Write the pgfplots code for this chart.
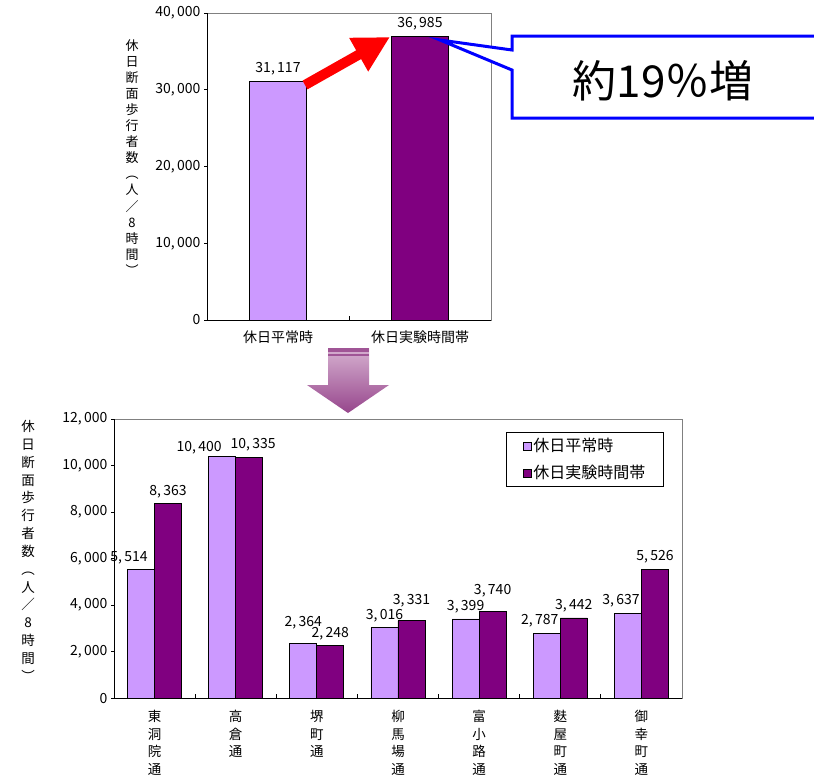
\documentclass[border=0pt]{standalone}
\usepackage{pgfplots}
\pgfplotsset{compat=1.18}
\usepackage{pgfplotstable}
\usepackage{fontspec}
\setmainfont{Noto Sans CJK JP}
\usetikzlibrary{arrows.meta}
\definecolor{lav}{RGB}{204,153,255}
\definecolor{plum}{RGB}{128,0,128}
\definecolor{axgray}{RGB}{128,128,128}
\definecolor{arrtop}{RGB}{214,176,208}
\definecolor{arrbot}{RGB}{150,70,140}
\definecolor{arrband}{RGB}{160,85,150}

\pgfplotstableread{
x a b adx ady bdx bdy
0 5514 8363 -12 0 0 0
1 10400 10335 -23 -4 4 1
2 2364 2248 0 8 0 0
3 3016 3331 0 0 0 8
4 3399 3740 0 0 0 8
5 2787 3442 -7 0 0 0
6 3637 5526 -7 0 0 0
}\bottomdata

\pgfplotstableread{
x v
0 31117
}\topA
\pgfplotstableread{
x v
1 36985
}\topB

\pgfplotsset{
  common/.style={
    scale only axis,
    axis line style={draw=axgray, line width=0.8pt},
    tick align=outside,
    major tick length=3pt,
    tick style={black, line width=0.8pt},
    xtick style={draw=none},
    ytick pos=left,
    scaled y ticks=false,
    yticklabel style={font=\fontsize{14}{14}\selectfont},
    /pgf/number format/1000 sep={,\,},
    /pgf/number format/assume math mode=true,
    clip=false,
  },
  lbl/.style={nodes near coords, nodes near coords style={font=\fontsize{14}{14}\selectfont, text=black, anchor=south, inner sep=2pt, yshift=3.5pt}},
}

\begin{document}
\begin{tikzpicture}
\useasboundingbox (0pt,0pt) rectangle (814pt,-777pt);

% ---------- top chart ----------
\begin{axis}[common, at={(207pt,-320pt)}, anchor=south west,
  width=284pt, height=307pt,
  xmin=-0.5, xmax=1.5, ymin=0, ymax=40000,
  ytick={0,10000,20000,30000,40000},
  xtick={0,1}, xticklabels={休日平常時,休日実験時間帯},
  xticklabel style={font=\fontsize{14}{14}\selectfont, yshift=-4pt}]
\addplot[ybar, bar width=57pt, bar shift=0pt, fill=lav, draw=black, line width=0.8pt, lbl] table[x=x,y=v]{\topA};
\addplot[ybar, bar width=57pt, bar shift=0pt, fill=plum, draw=black, line width=0.8pt, lbl] table[x=x,y=v]{\topB};
\draw[black, line width=1pt] (rel axis cs:0,1) -- (rel axis cs:0,0) -- (rel axis cs:1,0);
\draw[black, line width=0.8pt] (axis cs:0.5,0) -- ([yshift=4pt]axis cs:0.5,0);
\end{axis}

% ---------- bottom chart ----------
\begin{axis}[common, at={(114pt,-698pt)}, anchor=south west,
  width=568pt, height=279pt,
  xmin=-0.5, xmax=6.5, ymin=0, ymax=12000,
  ytick={0,2000,...,12000},
  xtick={0,...,6},
  xticklabels={東\\洞\\院\\通,高\\倉\\通,堺\\町\\通,柳\\馬\\場\\通,富\\小\\路\\通,麩\\屋\\町\\通,御\\幸\\町\\通},
  xticklabel style={align=center, anchor=north, font=\fontsize{13.5}{17.4}\selectfont, yshift=-6pt},
  legend style={at={(axis description cs:0.968,0.953)}, anchor=north east,
    draw=black, line width=0.8pt, font=\fontsize{16}{18}\selectfont,
    row sep=8pt, inner xsep=16pt, inner ysep=4pt, cells={anchor=west}},
  ]
\addplot[ybar, bar width=27pt, bar shift=-13.5pt, fill=lav, draw=black, line width=0.8pt,
  visualization depends on={\thisrow{adx}\as\dx},
  visualization depends on={\thisrow{ady}\as\dy},
  nodes near coords, nodes near coords style={font=\fontsize{14}{14}\selectfont, text=black, anchor=south, inner sep=2pt, yshift=3.5pt, xshift={\dx pt - 13.5pt}, yshift=\dy pt},
  legend image code/.code={\draw[fill=lav, draw=black, line width=0.8pt] (0pt,-4pt) rectangle (8pt,4pt);}]
  table[x=x,y=a]{\bottomdata};
\addplot[ybar, bar width=27pt, bar shift=13.5pt, fill=plum, draw=black, line width=0.8pt,
  visualization depends on={\thisrow{bdx}\as\dx},
  visualization depends on={\thisrow{bdy}\as\dy},
  nodes near coords, nodes near coords style={font=\fontsize{14}{14}\selectfont, text=black, anchor=south, inner sep=2pt, yshift=3.5pt, xshift={\dx pt + 13.5pt}, yshift=\dy pt},
  legend image code/.code={\draw[fill=plum, draw=black, line width=0.8pt] (0pt,-4pt) rectangle (8pt,4pt);}]
  table[x=x,y=b]{\bottomdata};
\legend{休日平常時,休日実験時間帯}
\draw[black, line width=1pt] (rel axis cs:0,1) -- (rel axis cs:0,0) -- (rel axis cs:1,0);
\pgfplotsinvokeforeach{0.5,1.5,2.5,3.5,4.5,5.5}{\draw[black, line width=0.8pt] (axis cs:#1,0) -- ([yshift=4pt]axis cs:#1,0);}
\end{axis}

% ---------- annotations ----------
\begin{scope}[x=1pt, y=-1pt]
  % y labels
  \node[anchor=north, inner sep=0pt, align=center, font=\fontsize{13}{16.1}\selectfont] at (132,39)
    {休\\日\\断\\面\\歩\\行\\者\\数\\︵\\人\\／\\8\\時\\間\\︶};
  \node[anchor=north, inner sep=0pt, align=center, font=\fontsize{13.5}{17.85}\selectfont] at (28,420)
    {休\\日\\断\\面\\歩\\行\\者\\数\\︵\\人\\／\\8\\時\\間\\︶};
  % red arrow
  \draw[red, line width=10pt, -{Triangle[length=36pt, width=36pt]}] (305,85) -- (390,37);
  % callout
  \filldraw[fill=white, draw=blue, line width=3pt, line join=miter]
    (512,70) -- (440,40) -- (512,50) -- (512,36) -- (818,36) -- (818,118) -- (512,118) -- cycle;
  \node[font=\fontsize{44}{48}\selectfont] at (663,81) {約19％増};
  % down arrow
  \shade[top color=arrtop, bottom color=arrbot]
    (328,348) -- (369,348) -- (369,385) -- (389,385) -- (348,413) -- (307,385) -- (328,385) -- cycle;
  \fill[arrband] (328,348) rectangle (369,351.5);
  \fill[arrband] (328,353.5) rectangle (369,356);
\end{scope}
\end{tikzpicture}
\end{document}
